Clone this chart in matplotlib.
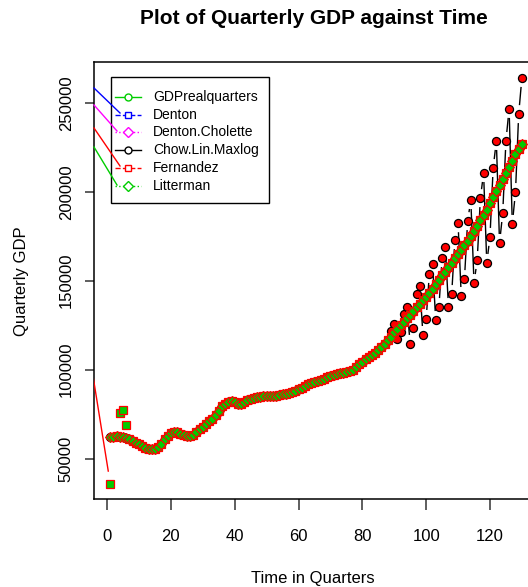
import numpy as np
import matplotlib
matplotlib.use("Agg")
import matplotlib.pyplot as plt
from matplotlib.lines import Line2D
from matplotlib.patches import Rectangle
from matplotlib.collections import LineCollection

plt.rcParams['font.family'] = ['Liberation Sans', 'DejaVu Sans']

# ---------------- data (values in thousands) ----------------
quarters = list(range(1, 131))

gdp_trend_k = [
    62.0, 62.3, 62.5, 62.2, 62.0, 61.5, 60.8, 60.0, 59.0, 58.0,
    57.0, 56.0, 55.5, 55.3, 55.5, 56.5, 58.5, 61.0, 63.0, 64.5,
    65.0, 64.8, 64.0, 63.2, 62.8, 62.8, 63.5, 64.8, 66.5, 68.0,
    69.5, 71.0, 72.5, 74.5, 77.0, 79.5, 81.0, 82.0, 82.5, 82.0,
    81.0, 81.0, 82.0, 83.0, 83.5, 84.0, 84.5, 84.5, 85.0, 85.0,
    85.0, 85.5, 85.5, 86.0, 86.5, 86.5, 87.0, 87.5, 88.0, 89.0,
    90.0, 91.0, 92.0, 92.5, 93.0, 93.5, 94.0, 95.0, 96.0, 96.5,
    97.0, 97.5, 98.0, 98.0, 98.5, 99.0, 100.0, 101.5, 103.0, 104.5,
    106.0, 107.0, 108.0, 109.5, 111.0, 112.5, 114.5, 116.5, 118.5, 121.0,
    123.0, 125.0, 127.0, 129.0, 131.0, 133.0, 135.0, 137.0, 139.0, 141.0,
    143.0, 145.5, 148.0, 150.5, 153.0, 155.0, 157.5, 160.0, 162.5, 165.0,
    167.5, 170.0, 172.5, 175.0, 178.0, 181.0, 184.0, 187.0, 190.0, 193.5,
    197.0, 200.5, 204.0, 207.0, 210.5, 214.0, 217.5, 221.0, 224.0, 227.0,
]

# Chow-Lin: follows the trend until q88, then seasonal swings (q89..q130)
chowlin_tail_k = [
    121.5, 125.5, 117.0, 121.0, 131.5, 135.0, 114.5, 123.4, 142.5, 147.0,
    119.5, 128.5, 153.8, 159.4, 127.9, 135.2, 162.7, 168.9, 135.2, 142.5,
    172.8, 182.3, 141.4, 150.9, 183.5, 195.3, 148.7, 161.6, 196.4, 210.5,
    160.0, 174.6, 213.3, 228.5, 171.2, 188.0, 228.5, 246.5, 181.9, 199.8,
    243.6, 263.9,
]
chowlin_k = gdp_trend_k[:88] + chowlin_tail_k

# Fernandez: odd first year, then the trend
fernandez_head_k = [36.0, 62.3, 62.5, 75.8, 77.5, 69.1]
fernandez_k = fernandez_head_k + gdp_trend_k[6:]
# segment entering from the left of the plot toward the first Fernandez point
fernandez_lead_x = [-5, 1]
fernandez_lead_k = [103.0, 36.0]

x_ticks = [0, 20, 40, 60, 80, 100, 120]
y_ticks = [50000, 100000, 150000, 200000, 250000]
legend_labels = ["GDPrealquarters", "Denton", "Denton.Cholette",
                 "Chow.Lin.Maxlog", "Fernandez", "Litterman"]

GREEN = '#00CD00'
W, H = 528, 587

trend = np.array(gdp_trend_k) * 1000
chow = np.array(chowlin_k) * 1000
fern = np.array(fernandez_k) * 1000
q = np.array(quarters)

fig = plt.figure(figsize=(W / 100, H / 100), dpi=100)
fig.patch.set_facecolor('white')
ax = fig.add_axes([94 / W, 1 - 499 / H, 440 / W, 437 / H])
ax.set_xlim(-4.1, 133.8)
ax.set_ylim(27360, 272870)


def gapped(xs, ys, gap, **kw):
    pts = ax.transData.transform(np.column_stack([xs, ys]))
    inv = ax.transData.inverted()
    segs = []
    for p0, p1 in zip(pts[:-1], pts[1:]):
        d = p1 - p0
        L = np.hypot(*d)
        if L > 2 * gap:
            u = d / L
            segs.append(inv.transform(np.array([p0 + u * gap, p1 - u * gap])))
    lc = LineCollection(segs, **kw)
    ax.add_collection(lc)
    return lc


# hidden-ish series lying on the trend
ax.plot(q, trend, color='blue', lw=1, ls='--', zorder=2)
ax.plot(q, trend, color='magenta', lw=1, ls=':', zorder=2)

# Chow-Lin: black line (type "b") with red filled circles
gapped(q, chow, 9, colors='black', linewidths=1.0, zorder=3)
ax.plot(q, chow, ls='none', marker='o', ms=5.8, mfc='red', mec='black',
        mew=0.9, zorder=4)

# Fernandez lead line and squares
gapped(fernandez_lead_x, np.array(fernandez_lead_k) * 1000, 12,
       colors='red', linewidths=1.0, zorder=3)
ax.plot(q, fern, ls='none', marker='s', ms=5.8, mfc=GREEN, mec='red',
        mew=0.9, zorder=5)
# Litterman diamonds / GDP real on trend
ax.plot(q, trend, ls='none', marker='D', ms=5.2, mfc=GREEN, mec='red',
        mew=0.8, zorder=6)

# axes styling
ax.set_xticks(x_ticks)
ax.set_yticks(y_ticks)
ax.set_xticklabels([str(v) for v in x_ticks])
ax.set_yticklabels([str(v) for v in y_ticks])
ax.spines['right'].set_visible(False)
for s in ['left', 'bottom', 'top']:
    ax.spines[s].set_linewidth(1.1)
    ax.spines[s].set_color('black')
ax.tick_params(axis='x', length=8, width=1.1, pad=13.5, labelsize=12,
               color='#333333')
ax.tick_params(axis='y', length=6.5, width=1.1, pad=8, labelsize=12,
               color='#333333')
for lab in ax.get_yticklabels():
    lab.set_rotation(90)
    lab.set_va('center')

fig.text(314 / W, 1 - 19 / H, "Plot of Quarterly GDP against Time",
         ha='center', va='center', fontsize=15, fontweight='bold')
fig.text(313 / W, 1 - 578 / H, "Time in Quarters", ha='center',
         va='center', fontsize=12)
fig.text(22 / W, 1 - 281 / H, "Quarterly GDP", ha='center', va='center',
         fontsize=12, rotation=90)

# manual legend (layout in figure pixels)
def fx(px):
    return px / W


def fy(py):
    return 1 - py / H


box = Rectangle((fx(111), fy(203)), (269 - 111) / W, (203 - 77) / H,
                transform=fig.transFigure, facecolor='white',
                edgecolor='black', lw=1.0, zorder=10)
fig.add_artist(box)
styles = [
    (GREEN, '-', 'o'),
    ('blue', '--', 's'),
    ('magenta', ':', 'D'),
    ('black', '-', 'o'),
    ('red', '--', 's'),
    (GREEN, ':', 'D'),
]
for i, (lab, (c, ls, m)) in enumerate(zip(legend_labels, styles)):
    yy = 97 + i * 17.7
    fig.add_artist(Line2D([fx(115), fx(141)], [fy(yy), fy(yy)],
                          transform=fig.transFigure, color=c, ls=ls, lw=1.0,
                          zorder=11))
    fig.add_artist(Line2D([fx(127.5)], [fy(yy)], transform=fig.transFigure,
                          color=c, marker=m, ms=5 if m != 'D' else 5.5,
                          mfc='white', mec=c, mew=1.0, ls='none', zorder=12))
    fig.text(fx(153), fy(yy), lab, ha='left', va='center', fontsize=10,
             zorder=12)

# stray series segments crossing into the legend (as in the original)
strays = [
    ('blue', (94, 88), (120, 113)),
    ('magenta', (94, 105), (117, 131)),
    ('red', (94, 128), (120, 166)),
    (GREEN, (94, 147), (117, 185)),
]
for c, p0, p1 in strays:
    fig.add_artist(Line2D([fx(p0[0]), fx(p1[0])], [fy(p0[1]), fy(p1[1])],
                          transform=fig.transFigure, color=c, lw=1.0,
                          zorder=13))

fig.savefig('out.png', dpi=100, facecolor='white')
